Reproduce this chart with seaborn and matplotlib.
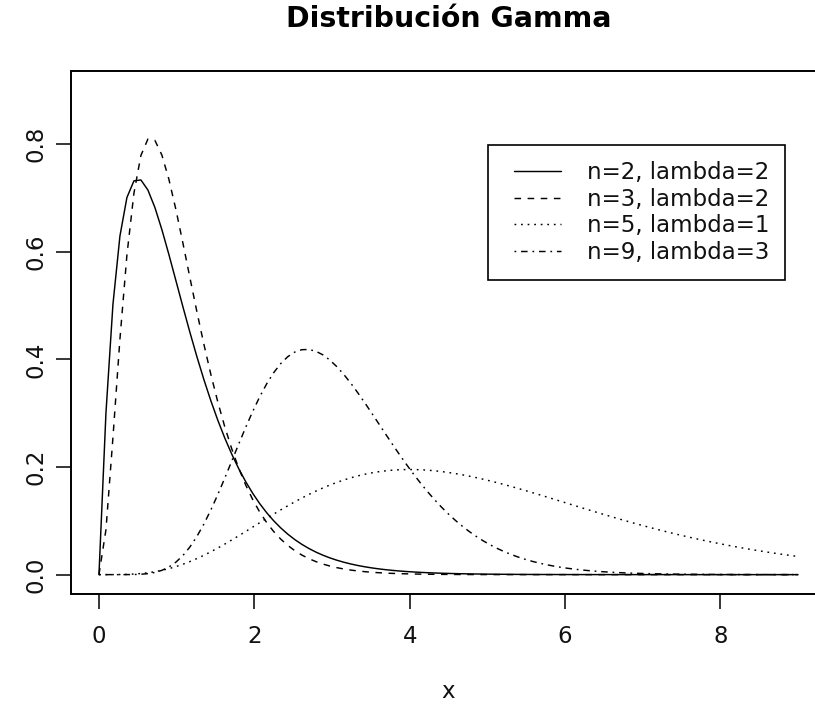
import math
import numpy as np
import pandas as pd
import seaborn as sns
import matplotlib
matplotlib.use("Agg")
import matplotlib.pyplot as plt
from matplotlib.lines import Line2D
from matplotlib.legend_handler import HandlerLine2D

# Gamma densities: shape and rate of each curve, with the legend text
shapes = [2, 3, 5, 9]
rates = [2, 3, 1, 3]
legend_labels = ["n=2, lambda=2", "n=3, lambda=2", "n=5, lambda=1", "n=9, lambda=3"]
line_styles = ["-", (0, (4.5, 4.5)), (0, (1.2, 3.3)), (0, (1.2, 3.3, 4.5, 3.3))]

x_ticks = [0, 2, 4, 6, 8]
y_ticks = [0.0, 0.2, 0.4, 0.6, 0.8]
y_tick_labels = ["0.0", "0.2", "0.4", "0.6", "0.8"]

x_from, x_to, n_points = 0.0, 9.0, 101


def gamma_pdf(x, shape, rate):
    x = np.asarray(x, dtype=float)
    out = np.zeros_like(x)
    pos = x > 0
    out[pos] = (rate ** shape) * x[pos] ** (shape - 1) * np.exp(-rate * x[pos]) / math.gamma(shape)
    return out


class InsetLineHandler(HandlerLine2D):
    """Legend line that starts a little to the right of the box padding."""

    def __init__(self, inset=7.0, **kw):
        super().__init__(**kw)
        self.inset = inset

    def create_artists(self, legend, orig_handle, xdescent, ydescent,
                       width, height, fontsize, trans):
        return super().create_artists(legend, orig_handle, xdescent - self.inset,
                                      ydescent, width - self.inset, height,
                                      fontsize, trans)


sns.set_theme(style="white")
plt.rcParams["font.family"] = ["DejaVu Sans"]

fig = plt.figure(figsize=(8.15, 7.04), dpi=100)
ax = fig.add_axes([71 / 815, 110 / 704, 755 / 815, 523 / 704])

xs = np.linspace(x_from, x_to, n_points)
handles = []
for shape, rate, ls, lab in zip(shapes, rates, line_styles, legend_labels):
    df = pd.DataFrame({"x": xs, "density": gamma_pdf(xs, shape, rate)})
    sns.lineplot(data=df, x="x", y="density", ax=ax, color="black",
                 linestyle=ls, linewidth=1.05, estimator=None, sort=False)
    handles.append(Line2D([], [], color="black", linestyle=ls, linewidth=1.05))

ax.set_xlim(-0.36, 9.36)
ax.set_ylim(-0.036, 0.936)

ax.set_xticks(x_ticks)
ax.set_xticklabels([str(t) for t in x_ticks], fontsize=16.5)
ax.set_yticks(y_ticks)
ax.set_yticklabels(y_tick_labels, fontsize=16.5, rotation=90, va="center")
ax.tick_params(axis="x", direction="out", length=11, width=1.1, pad=11, colors="black")
ax.tick_params(axis="y", direction="out", length=11, width=1.1, pad=6, colors="black")
ax.tick_params(axis="both", bottom=True, left=True, labelcolor="#111111")

for side in ["left", "right", "top", "bottom"]:
    ax.spines[side].set_visible(True)
    ax.spines[side].set_color("black")
    ax.spines[side].set_linewidth(1.4)

ax.set_xlabel("x", fontsize=16.5, labelpad=23, color="#111111")
ax.set_ylabel("")
ax.set_title("Distribución Gamma", fontsize=20.4, fontweight="bold", pad=31.5,
             color="black")

leg = ax.legend(handles, legend_labels, loc="upper left",
                bbox_to_anchor=(488 / 815, 1 - 145 / 704),
                bbox_transform=fig.transFigure, borderaxespad=0,
                fontsize=16.5, handlelength=2.5, handletextpad=1.1,
                borderpad=0.7, labelspacing=0.16, fancybox=False,
                frameon=True, framealpha=1, edgecolor="black",
                handler_map={Line2D: InsetLineHandler(inset=7.0)})
leg.get_frame().set_linewidth(1.2)
for t in leg.get_texts():
    t.set_color("#111111")

fig.savefig("out.png", dpi=100, facecolor="white")
